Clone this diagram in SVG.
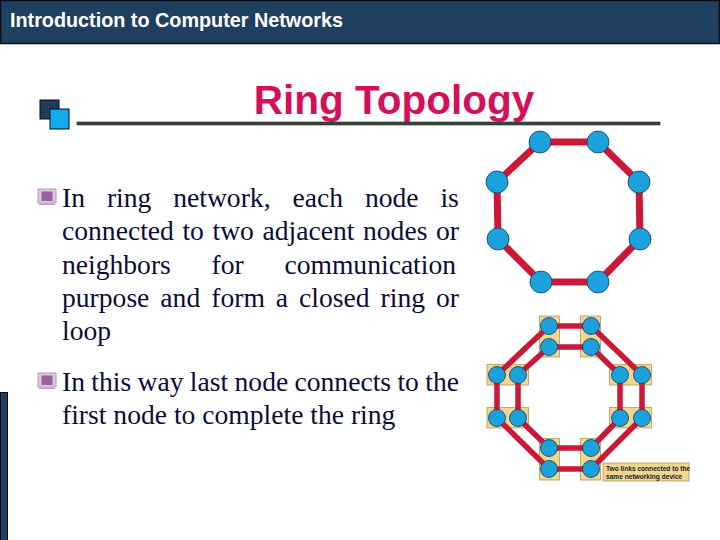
<svg xmlns="http://www.w3.org/2000/svg" width="720" height="540" viewBox="0 0 720 540">
<style>
.hdr{font-family:"Liberation Sans",Arial,sans-serif;font-weight:bold;font-size:19.8px;fill:#ffffff}
.title{font-family:"Liberation Sans",Arial,sans-serif;font-weight:bold;font-size:40.5px;fill:#D4105C}
.body{font-family:"Liberation Serif","Times New Roman",serif;font-size:27.6px;fill:#0C0C38}
.lbl{font-family:"Liberation Sans",Arial,sans-serif;font-weight:bold;font-size:6.6px;fill:#222}
.l1{stroke:#CC1838;stroke-width:7;stroke-linecap:round}
.l2{stroke:#CC1838;stroke-width:5.5;stroke-linecap:round}
.n1{fill:#1BA1DC;stroke:#1a3a5a;stroke-width:0.8}
.box{fill:#F0D68E;stroke:#B09860;stroke-width:0.8}
</style>
<defs>
<g id="bullet">
<rect x="0" y="0" width="18" height="14" fill="#DCC8E0" stroke="#B898C0" stroke-width="1"/>
<rect x="3.5" y="2.5" width="11" height="9.5" fill="#9B5E9E"/>
<rect x="1" y="14.5" width="16" height="1.5" fill="#B8A0C0"/>
</g>
</defs>
<rect width="720" height="540" fill="#ffffff"/>
<g id="header">
<rect x="0.5" y="0.5" width="719" height="43" fill="#1F3F5F" stroke="#0a0a14" stroke-width="1.5"/>
<text class="hdr" x="10" y="27">Introduction to Computer Networks</text>
</g>
<g id="titlebar">
<rect x="40" y="100" width="19" height="19" fill="#1F3F5F" stroke="#0a0a14" stroke-width="1"/>
<rect x="50" y="109" width="19" height="20" fill="#12AAEE" stroke="#0a0a14" stroke-width="1"/>
<rect x="77" y="122" width="583" height="3" fill="#3a4a3a" stroke="#222" stroke-width="0.6"/>
<text class="title" x="394" y="114" text-anchor="middle">Ring Topology</text>
</g>
<g id="leftbar">
<rect x="0.5" y="392.5" width="7" height="148" fill="#1F3F5F" stroke="#0a0a14" stroke-width="1"/>
</g>
<g id="text">
<use href="#bullet" x="38" y="189"/>
<text class="body" x="62" y="207" word-spacing="15">In ring network, each node is</text>
<text class="body" x="62" y="240" word-spacing="1.7">connected to two adjacent nodes or</text>
<text class="body" x="62" y="274" word-spacing="33.8">neighbors for communication</text>
<text class="body" x="62" y="307" word-spacing="4.1">purpose and form a closed ring or</text>
<text class="body" x="62" y="340">loop</text>
<use href="#bullet" x="38" y="373"/>
<text class="body" x="62" y="391" word-spacing="-0.55">In this way last node connects to the</text>
<text class="body" x="62" y="424">first node to complete the ring</text>
</g>
<g id="connectors">
<line class="l1" x1="540" y1="142" x2="598" y2="142"/>
<line class="l1" x1="598" y1="142" x2="639" y2="182"/>
<line class="l1" x1="639" y1="182" x2="640" y2="239"/>
<line class="l1" x1="640" y1="239" x2="598" y2="282"/>
<line class="l1" x1="598" y1="282" x2="541" y2="282"/>
<line class="l1" x1="541" y1="282" x2="498" y2="239"/>
<line class="l1" x1="498" y1="239" x2="497" y2="182"/>
<line class="l1" x1="497" y1="182" x2="540" y2="142"/>
</g>
<g id="ring1-nodes">
<circle id="r1n1" class="n1" cx="540" cy="142" r="11"/>
<circle id="r1n2" class="n1" cx="598" cy="142" r="11"/>
<circle id="r1n3" class="n1" cx="639" cy="182" r="11"/>
<circle id="r1n4" class="n1" cx="640" cy="239" r="11"/>
<circle id="r1n5" class="n1" cx="598" cy="282" r="11"/>
<circle id="r1n6" class="n1" cx="541" cy="282" r="11"/>
<circle id="r1n7" class="n1" cx="498" cy="239" r="11"/>
<circle id="r1n8" class="n1" cx="497" cy="182" r="11"/>
</g>
<g id="ring2-boxes">
<rect id="b1" class="box" x="539.5" y="316" width="20" height="41"/>
<rect id="b2" class="box" x="580.5" y="316" width="20" height="41"/>
<rect id="b3" class="box" x="609.5" y="364.5" width="42" height="20.5"/>
<rect id="b4" class="box" x="609.5" y="407.5" width="42" height="20.5"/>
<rect id="b5" class="box" x="580.5" y="438.5" width="20" height="41.5"/>
<rect id="b6" class="box" x="539.5" y="438.5" width="20" height="41.5"/>
<rect id="b7" class="box" x="487" y="407.5" width="41.5" height="20.5"/>
<rect id="b8" class="box" x="487" y="364.5" width="41.5" height="20.5"/>
</g>
<g id="connectors2">
<line class="l2" x1="549" y1="326" x2="591" y2="326"/>
<line class="l2" x1="591" y1="326" x2="642" y2="375"/>
<line class="l2" x1="642" y1="375" x2="642" y2="418"/>
<line class="l2" x1="642" y1="418" x2="591" y2="469"/>
<line class="l2" x1="591" y1="469" x2="549" y2="469"/>
<line class="l2" x1="549" y1="469" x2="497" y2="418"/>
<line class="l2" x1="497" y1="418" x2="497" y2="375"/>
<line class="l2" x1="497" y1="375" x2="549" y2="326"/>
<line class="l2" x1="549" y1="347" x2="591" y2="347"/>
<line class="l2" x1="591" y1="347" x2="620" y2="375"/>
<line class="l2" x1="620" y1="375" x2="620" y2="418"/>
<line class="l2" x1="620" y1="418" x2="591" y2="448"/>
<line class="l2" x1="591" y1="448" x2="549" y2="448"/>
<line class="l2" x1="549" y1="448" x2="518" y2="418"/>
<line class="l2" x1="518" y1="418" x2="518" y2="375"/>
<line class="l2" x1="518" y1="375" x2="549" y2="347"/>
</g>
<g id="ring2-nodes">
<circle class="n1" cx="549" cy="326" r="8.5"/>
<circle class="n1" cx="549" cy="347" r="8.5"/>
<circle class="n1" cx="591" cy="326" r="8.5"/>
<circle class="n1" cx="591" cy="347" r="8.5"/>
<circle class="n1" cx="620" cy="375" r="8.5"/>
<circle class="n1" cx="642" cy="375" r="8.5"/>
<circle class="n1" cx="620" cy="418" r="8.5"/>
<circle class="n1" cx="642" cy="418" r="8.5"/>
<circle class="n1" cx="591" cy="448" r="8.5"/>
<circle class="n1" cx="591" cy="469" r="8.5"/>
<circle class="n1" cx="549" cy="448" r="8.5"/>
<circle class="n1" cx="549" cy="469" r="8.5"/>
<circle class="n1" cx="497" cy="418" r="8.5"/>
<circle class="n1" cx="518" cy="418" r="8.5"/>
<circle class="n1" cx="497" cy="375" r="8.5"/>
<circle class="n1" cx="518" cy="375" r="8.5"/>
</g>
<g id="label">
<rect class="box" x="603" y="463" width="86" height="18"/>
<text class="lbl" x="606" y="470.5">Two links connected to the</text>
<text class="lbl" x="606" y="478.5">same networking device</text>
</g>
</svg>
